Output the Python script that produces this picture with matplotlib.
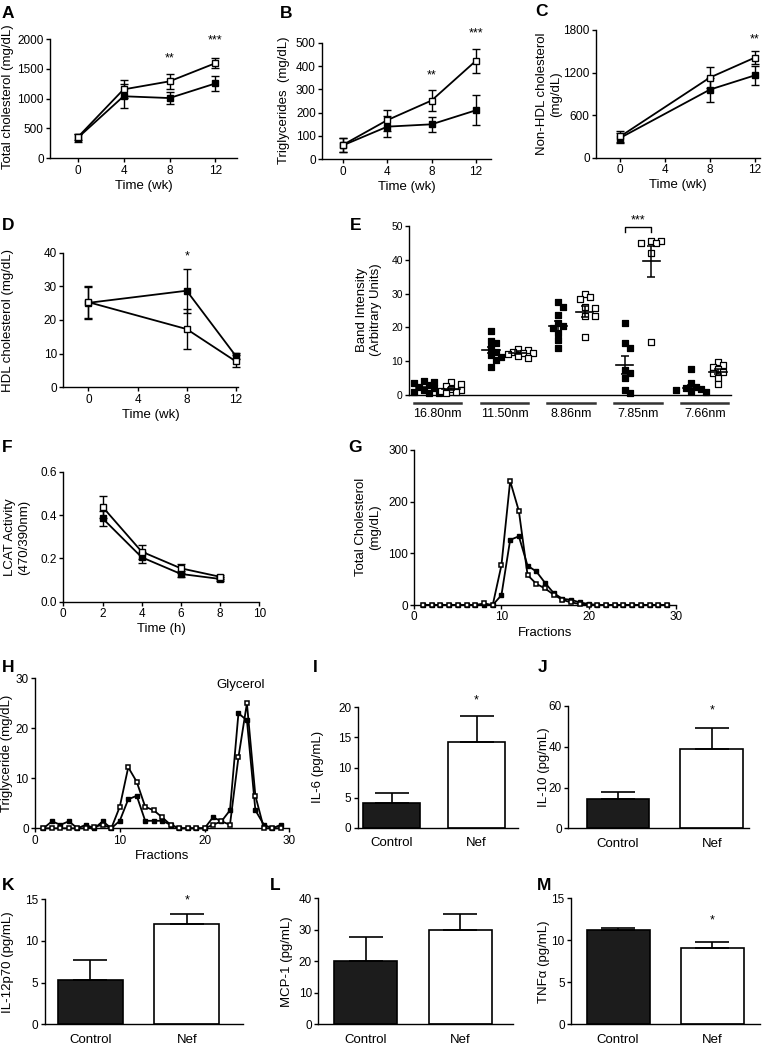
import matplotlib
matplotlib.use('Agg')
import matplotlib.pyplot as plt
import numpy as np
from matplotlib.transforms import blended_transform_factory

plt.rcParams['font.family'] = ['Liberation Sans', 'DejaVu Sans']
plt.rcParams['axes.linewidth'] = 1.0

# ---------- data ----------
weeks = [0, 4, 8, 12]
tc_ctrl = [340, 1040, 1010, 1255]
tc_ctrl_err = [60, 200, 100, 120]
tc_nef = [350, 1155, 1290, 1595]
tc_nef_err = [50, 150, 120, 85]

tg_ctrl = [60, 140, 150, 210]
tg_ctrl_err = [30, 45, 33, 65]
tg_nef = [62, 168, 252, 422]
tg_nef_err = [30, 45, 45, 53]

weeks_c = [0, 8, 12]
nonhdl_ctrl = [280, 960, 1160]
nonhdl_ctrl_err = [70, 170, 130]
nonhdl_nef = [300, 1130, 1410]
nonhdl_nef_err = [80, 150, 90]

hdl_ctrl = [25.1, 28.7, 9.3]
hdl_ctrl_err = [4.8, 6.6, 1.0]
hdl_nef = [25.3, 17.3, 7.7]
hdl_nef_err = [4.8, 6.0, 1.8]

bands = ['16.80nm', '11.50nm', '8.86nm', '7.85nm', '7.66nm']
band_ctrl = [
    [4.0, 3.9, 3.5, 3.0, 2.5, 2.0, 1.5, 1.0, 0.7, 0.5],
    [18.9, 16.1, 15.3, 13.8, 12.8, 11.8, 11.3, 10.4, 8.4],
    [27.6, 26.1, 23.7, 21.2, 20.4, 19.9, 18.2, 16.3, 14.0],
    [21.2, 15.3, 13.8, 7.4, 6.4, 4.9, 1.5, 0.7],
    [7.7, 3.5, 2.5, 2.0, 1.7, 1.5, 1.2, 1.0],
]
band_nef = [
    [3.8, 3.2, 2.8, 1.8, 1.5, 1.2, 0.8, 0.5],
    [13.5, 13.2, 12.8, 12.5, 12.3, 12.0, 11.5, 11.0],
    [29.9, 29.1, 28.3, 25.9, 25.6, 23.4, 23.4, 17.3],
    [45.6, 45.6, 45.1, 44.9, 41.9, 15.8],
    [9.7, 8.9, 8.4, 7.6, 6.9, 6.4, 4.9, 3.2],
]
band_ctrl_mean = [2.0, 13.3, 20.4, 8.9, 2.1]
band_ctrl_sem = [0.4, 1.0, 1.5, 2.6, 0.8]
band_nef_mean = [1.8, 12.5, 24.7, 39.6, 6.9]
band_nef_sem = [0.4, 0.4, 1.6, 4.6, 0.7]

hours = [2, 4, 6, 8]
lcat_ctrl = [0.385, 0.205, 0.128, 0.105]
lcat_ctrl_err = [0.035, 0.025, 0.012, 0.01]
lcat_nef = [0.438, 0.231, 0.154, 0.115]
lcat_nef_err = [0.05, 0.032, 0.022, 0.01]

fractions = list(range(1, 30))
g_nef = [0, 0, 0, 0, 0, 0, 0, 3, 0, 77, 240, 182, 58, 41, 32, 20, 10, 5, 2, 0.5,
         0, 0, 0, 0, 0, 0, 0, 0, 0]
g_ctrl = [0, 0, 0, 0, 0, 0, 0, 0, 0, 19, 126, 133, 76, 65, 43, 23, 12, 10, 5, 2,
          0, 0, 0, 0, 0, 0, 0, 0, 0]
h_ctrl = [0, 1.4, 0.7, 1.4, 0, 0.7, 0, 1.4, 0, 1.5, 5.8, 6.5, 1.5, 1.5, 1.5, 0.7,
          0, 0, 0, 0, 2.2, 1.4, 3.6, 23.0, 21.6, 3.6, 0.7, 0, 0.7]
h_nef = [0, 0, 0, 0, 0, 0, 0.3, 0.7, 0, 4.3, 12.2, 9.3, 4.3, 3.6, 2.2, 0.7,
         0, 0, 0, 0, 0.7, 1.4, 0.7, 14.2, 25.0, 6.5, 0, 0, 0]

groups = ['Control', 'Nef']
il6 = [4.1, 14.3]
il6_err = [1.7, 4.3]
il10 = [14.2, 38.7]
il10_err = [3.8, 10.3]
il12 = [5.3, 12.05]
il12_err = [2.4, 1.2]
mcp1 = [20.1, 30.0]
mcp1_err = [7.5, 5.0]
tnfa = [11.2, 9.05]
tnfa_err = [0.3, 0.8]

# ---------- figure ----------
W, H = 762, 1048
fig = plt.figure(figsize=(W / 100, H / 100), dpi=100)


def px_axes(l, t, r, b):
    return fig.add_axes([l / W, 1 - b / H, (r - l) / W, (b - t) / H])


def style(ax, labelsize=8.5):
    for s in ['top', 'right']:
        ax.spines[s].set_visible(False)
    ax.tick_params(direction='out', length=3, width=1, labelsize=labelsize, pad=1.5)


def letter(x, y, s):
    fig.text(x / W, 1 - y / H, s, fontsize=12.5, fontweight='bold', ha='left', va='center')


def ylab(x, y, s):
    # y axis title placed at pixel position (centre of the rotated text)
    fig.text(x / W, 1 - y / H, s, rotation=90, ha='center', va='center',
             multialignment='center', fontsize=9.5)


def time_panel(ax, x, ctrl, ctrl_err, nef, nef_err):
    ax.errorbar(x, ctrl, yerr=ctrl_err, fmt='-s', color='black', ms=5, lw=1.3,
                elinewidth=1, capsize=3, capthick=1, zorder=3, clip_on=False)
    ax.errorbar(x, nef, yerr=nef_err, fmt='-s', color='black', mfc='white', mec='black',
                mew=1, ms=5, lw=1.3, elinewidth=1, capsize=3, capthick=1, zorder=4, clip_on=False)


def star(ax, x, y, s):
    ax.text(x, y, s, ha='center', va='center', fontsize=9, clip_on=False)


# A
ax = px_axes(50, 39, 237.3, 158.3)
style(ax)
time_panel(ax, weeks, tc_ctrl, tc_ctrl_err, tc_nef, tc_nef_err)
ax.set_xlim(-2.4, 13.9)
ax.set_ylim(0, 2000)
ax.set_xticks(weeks)
ax.set_yticks([0, 500, 1000, 1500, 2000])
ax.set_xlabel('Time (wk)', fontsize=9.5, labelpad=2.5)
ylab(8.5, 97, 'Total cholesterol (mg/dL)')
star(ax, 8, 1680, '**')
star(ax, 12, 1980, '***')
letter(2, 13, 'A')

# B
ax = px_axes(322, 42.7, 491.3, 159.3)
style(ax)
time_panel(ax, weeks, tg_ctrl, tg_ctrl_err, tg_nef, tg_nef_err)
ax.set_xlim(-1.9, 13.4)
ax.set_ylim(0, 500)
ax.set_xticks(weeks)
ax.set_yticks(range(0, 501, 100))
ax.set_xlabel('Time (wk)', fontsize=9.5, labelpad=2.5)
ylab(284, 100, 'Triglycerides  (mg/dL)')
star(ax, 8, 361, '**')
star(ax, 12, 540, '***')
letter(280, 13, 'B')

# C
ax = px_axes(596, 30, 760, 157.7)
style(ax)
time_panel(ax, weeks_c, nonhdl_ctrl, nonhdl_ctrl_err, nonhdl_nef, nonhdl_nef_err)
ax.set_xlim(-2.17, 12.47)
ax.set_ylim(0, 1800)
ax.set_xticks(weeks)
ax.set_yticks([0, 600, 1200, 1800])
ax.set_xlabel('Time (wk)', fontsize=9.5, labelpad=2.5)
ylab(549, 94, 'Non-HDL cholesterol\n(mg/dL)')
star(ax, 12, 1668, '**')
letter(535, 12, 'C')

# D
ax = px_axes(63.3, 252.7, 238.3, 387.3)
style(ax)
time_panel(ax, weeks_c, hdl_ctrl, hdl_ctrl_err, hdl_nef, hdl_nef_err)
ax.set_xlim(-2.04, 12.2)
ax.set_ylim(0, 40)
ax.set_xticks(weeks)
ax.set_yticks(range(0, 41, 10))
ax.set_xlabel('Time (wk)', fontsize=9.5, labelpad=2.5)
ylab(8, 320, 'HDL cholesterol (mg/dL)')
star(ax, 8, 38.8, '*')
letter(2, 225, 'D')

# E
ax = px_axes(409, 226, 730.7, 395)
style(ax, labelsize=7.5)
ax.set_xlim(-0.43, 4.39)
ax.set_ylim(0, 50)
ax.set_yticks(range(0, 51, 10))
ax.set_xticks([])
ylab(369, 310, 'Band Intensity\n(Arbitrary Units)')
px_x = 321.7 / 4.82
px_y = 169 / 50.0


def swarm(vals, center, d=0.075, r=5.5):
    placed = []
    xs = []
    cands = [0.0]
    for j in range(1, 8):
        cands += [j * d, -j * d]
    for v in vals:
        chosen = cands[-1]
        for off in cands:
            if all(np.hypot((off - po) * px_x, (v - pv) * px_y) >= r for po, pv in placed):
                chosen = off
                break
        placed.append((chosen, v))
        xs.append(center + chosen)
    return xs


trans = blended_transform_factory(ax.transData, ax.transAxes)
for i, band in enumerate(bands):
    for off, vals, mean, sem, face in [(-0.2, band_ctrl[i], band_ctrl_mean[i], band_ctrl_sem[i], 'black'),
                                        (0.2, band_nef[i], band_nef_mean[i], band_nef_sem[i], 'white')]:
        c = i + off
        ax.scatter(swarm(vals, c), vals, marker='s', s=14, facecolor=face, edgecolor='black',
                   linewidth=0.9, zorder=3, clip_on=False)
        ax.plot([c - 0.13, c + 0.13], [mean, mean], color='black', lw=1.2, zorder=4)
        ax.errorbar([c], [mean], yerr=[sem], fmt='none', ecolor='black', elinewidth=1.1,
                    capsize=3, capthick=1.1, zorder=4)
    ax.plot([i - 0.355, i + 0.355], [-0.047, -0.047], transform=trans, clip_on=False,
            color='#333333', lw=1.8)
    ax.text(i, -0.115, band, transform=trans, ha='center', va='center', fontsize=9)
ax.plot([2.8, 2.8, 3.2, 3.2], [48.1, 49.6, 49.6, 48.1], color='black', lw=1, clip_on=False)
star(ax, 3, 51.6, '***')
letter(350, 225, 'E')

# F
ax = px_axes(63.3, 471.7, 259.3, 601.7)
style(ax)
time_panel(ax, hours, lcat_ctrl, lcat_ctrl_err, lcat_nef, lcat_nef_err)
ax.set_xlim(0, 10)
ax.set_ylim(0, 0.6)
ax.set_xticks(range(0, 11, 2))
ax.set_yticks([0, 0.2, 0.4, 0.6])
ax.set_yticklabels(['0.0', '0.2', '0.4', '0.6'])
ax.set_xlabel('Time (h)', fontsize=9.5, labelpad=2.5)
ylab(17, 537, 'LCAT Activity\n(470/390nm)')
letter(2, 447, 'F')

# G
ax = px_axes(414.3, 450, 675.7, 605)
style(ax)
ax.plot(fractions, g_ctrl, '-s', color='black', ms=3.5, lw=1.3, zorder=3, clip_on=False)
ax.plot(fractions, g_nef, '-s', color='black', mfc='white', mew=1.1, ms=3.5, lw=1.3,
        zorder=4, clip_on=False)
ax.set_xlim(0, 30)
ax.set_ylim(0, 300)
ax.set_xticks([0, 10, 20, 30])
ax.set_yticks([0, 100, 200, 300])
ax.set_xlabel('Fractions', fontsize=9.5, labelpad=2.5)
ylab(368, 527, 'Total Cholesterol\n(mg/dL)')
letter(348, 447, 'G')

# H
ax = px_axes(35, 678.3, 289.3, 828.3)
style(ax)
ax.plot(fractions, h_ctrl, '-s', color='black', ms=3.5, lw=1.3, zorder=3, clip_on=False)
ax.plot(fractions, h_nef, '-s', color='black', mfc='white', mew=1.1, ms=3.5, lw=1.3,
        zorder=4, clip_on=False)
ax.set_xlim(0, 30)
ax.set_ylim(0, 30)
ax.set_xticks([0, 10, 20, 30])
ax.set_yticks([0, 10, 20, 30])
ax.set_xlabel('Fractions', fontsize=9.5, labelpad=2.5)
ylab(7.5, 753, 'Triglyceride (mg/dL)')
ax.text(24.2, 28.7, 'Glycerol', ha='center', va='center', fontsize=9.5)
letter(2, 667, 'H')


def bar_panel(ax, vals, errs, xlim, ylim, yticks, star_y=None):
    style(ax)
    ax.bar([0, 1], vals, width=0.67, color=['#1c1c1c', 'white'], edgecolor='black',
           linewidth=1.2, zorder=2)
    ax.errorbar([0, 1], vals, yerr=[[0, 0], errs], fmt='none', ecolor='black',
                elinewidth=1.2, capsize=12, capthick=1.2, zorder=3)
    ax.set_xlim(*xlim)
    ax.set_ylim(*ylim)
    ax.set_yticks(yticks)
    ax.set_xticks([0, 1])
    ax.set_xticklabels(groups, fontsize=9.5)
    ax.tick_params(axis='x', length=0, pad=7)
    if star_y is not None:
        star(ax, 1, star_y, '*')


# I
ax = px_axes(357.7, 707.3, 518.3, 827.7)
bar_panel(ax, il6, il6_err, (-0.4, 1.49), (0, 20), [0, 5, 10, 15, 20], 21.2)
ylab(318, 767, 'IL-6 (pg/mL)')
letter(313, 667, 'I')

# J
ax = px_axes(568.3, 706, 749.3, 828.3)
bar_panel(ax, il10, il10_err, (-0.53, 1.4), (0, 60), [0, 20, 40, 60], 58)
ylab(543.5, 767, 'IL-10 (pg/mL)')
letter(538, 667, 'J')

# K
ax = px_axes(44.7, 899.3, 243, 1024.3)
bar_panel(ax, il12, il12_err, (-0.47, 1.58), (0, 15), [0, 5, 10, 15], 14.9)
ylab(8, 962, 'IL-12p70 (pg/mL)')
letter(2, 885, 'K')

# L
ax = px_axes(318.3, 898.3, 512.6, 1024.3)
bar_panel(ax, mcp1, mcp1_err, (-0.5, 1.55), (0, 40), [0, 10, 20, 30, 40])
ylab(287, 962, 'MCP-1 (pg/mL)')
letter(270, 885, 'L')

# M
ax = px_axes(571, 898.3, 760.4, 1024.3)
bar_panel(ax, tnfa, tnfa_err, (-0.5, 1.51), (0, 15), [0, 5, 10, 15], 12.4)
ylab(544, 962, 'TNFα (pg/mL)')
letter(537, 885, 'M')

fig.savefig('out.png', dpi=100)
